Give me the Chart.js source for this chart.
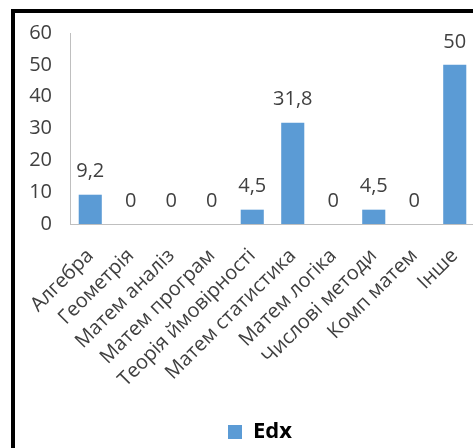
<!DOCTYPE html>
<html>
<head>
<meta charset="utf-8">
<script src="https://cdn.jsdelivr.net/npm/chart.js@4.4.1/dist/chart.umd.min.js"></script>
<style>
  html, body { margin: 0; padding: 0; background: #fff; width: 473px; height: 448px; overflow: hidden; }
  #frame { position: absolute; left: 11px; top: 9px; width: 470px; height: 445px;
           border-top: 4px solid #000; border-left: 4px solid #000; }
  #wrap { position: absolute; left: 15px; top: 13px; width: 490px; height: 435px; }
</style>
</head>
<body>
<div id="frame"></div>
<div id="wrap"><canvas id="chart"></canvas></div>
<script>
// Courses taken on the edX platform, share of respondents (%)
const categories = [
  'Алгебра', 'Геометрія', 'Матем аналіз', 'Матем програм', 'Теорія ймовірності',
  'Матем статистика', 'Матем логіка', 'Числові методи', 'Комп матем', 'Інше'
];
const edxValues = [9.2, 0, 0, 0, 4.5, 31.8, 0, 4.5, 0, 50];
const seriesName = 'Edx';
const yTicks = [0, 10, 20, 30, 40, 50, 60];

const FONT = "'Open Sans', 'DejaVu Sans', sans-serif";
const TEXT = '#404040';
const BAR = '#5b9bd5';
const AXIS = '#bfbfbf';

// Value labels above each bar, decimal comma
const valueLabels = {
  id: 'valueLabels',
  afterDatasetsDraw(chart) {
    const ctx = chart.ctx;
    const meta = chart.getDatasetMeta(0);
    ctx.save();
    ctx.font = '20px ' + FONT;
    ctx.fillStyle = TEXT;
    ctx.textAlign = 'center';
    ctx.textBaseline = 'middle';
    meta.data.forEach((bar, i) => {
      const v = chart.data.datasets[0].data[i];
      ctx.fillText(String(v).replace('.', ','), bar.x, bar.y - 23);
    });
    ctx.restore();
  }
};

// Nudge the legend right of the canvas centre and closer to the bottom edge
const legendShift = {
  id: 'legendShift',
  afterLayout(chart) {
    const lg = chart.legend;
    if (lg) {
      lg.left += 15;
      lg.right += 15;
      lg.top += 5;
      lg.bottom += 5;
    }
  }
};

new Chart(document.getElementById('chart'), {
  type: 'bar',
  data: {
    labels: categories,
    datasets: [{
      label: seriesName,
      data: edxValues,
      backgroundColor: BAR,
      borderWidth: 0,
      barPercentage: 0.57,
      categoryPercentage: 1
    }]
  },
  options: {
    responsive: true,
    maintainAspectRatio: false,
    animation: false,
    events: [],
    layout: { padding: { top: 20, right: 30, left: 0, bottom: 0 } },
    plugins: {
      legend: {
        position: 'bottom',
        labels: {
          boxWidth: 14,
          boxHeight: 14,
          color: '#000',
          padding: 1,
          font: { family: FONT, size: 22, weight: 'bold' }
        }
      },
      tooltip: { enabled: false }
    },
    scales: {
      x: {
        grid: { display: false, drawTicks: false },
        border: { display: true, color: AXIS, width: 1 },
        ticks: {
          autoSkip: false,
          maxRotation: 45,
          minRotation: 45,
          padding: 20,
          color: TEXT,
          font: { family: FONT, size: 20 }
        },
        afterFit(s) { s.height = 191; s.paddingLeft = 0; s.paddingRight = 0; }
      },
      y: {
        min: 0,
        max: 60,
        afterBuildTicks(s) { s.ticks = yTicks.map(v => ({ value: v })); },
        grid: { display: false, drawTicks: false },
        border: { display: true, color: AXIS, width: 1 },
        ticks: {
          padding: 18,
          color: TEXT,
          font: { family: FONT, size: 20 }
        },
        afterFit(s) { s.width = 55; s.paddingTop = 0; s.paddingBottom = 0; }
      }
    }
  },
  plugins: [valueLabels, legendShift]
});
</script>
</body>
</html>
